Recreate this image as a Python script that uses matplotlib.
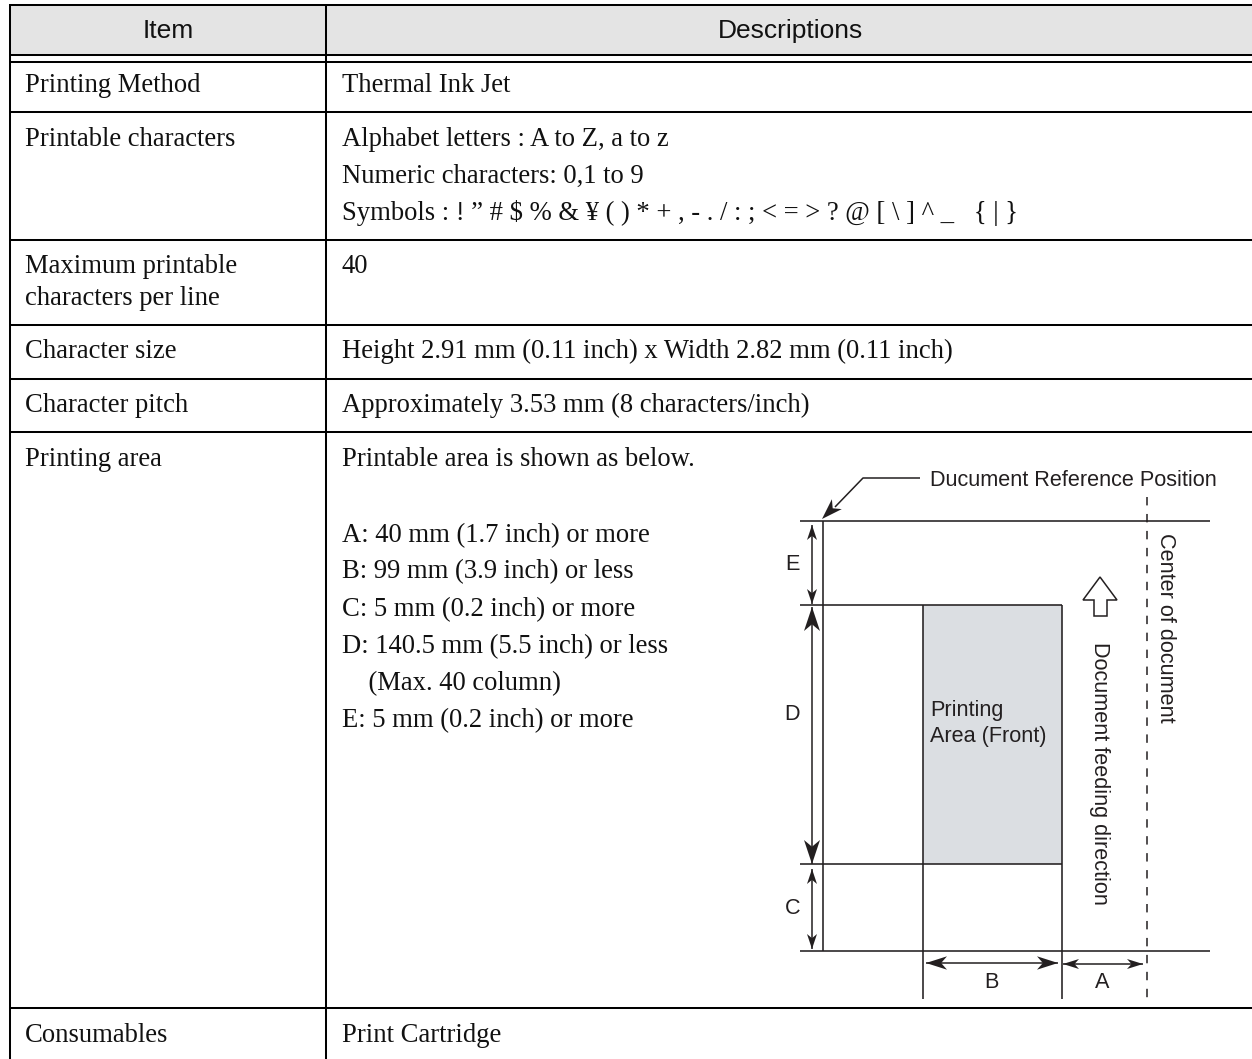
import math
import matplotlib
matplotlib.use("Agg")
import matplotlib.pyplot as plt
from matplotlib.patches import Rectangle, Polygon

W, H = 1252, 1059
SERIF = "Liberation Serif"
SANS = "Liberation Sans"
INK = "#231f20"
TXT = "#111111"

header_labels = ["Item", "Descriptions"]
row_rules = [5, 55, 62, 112, 240, 325, 379, 432, 1008]
item_labels = [("Printing Method", 92), ("Printable characters", 146),
               ("Maximum printable", 273), ("characters per line", 305),
               ("Character size", 358), ("Character pitch", 412),
               ("Printing area", 466), ("Consumables", 1042)]
desc_labels = [("Thermal Ink Jet", 92),
               ("Alphabet letters : A to Z, a to z", 146),
               ("Numeric characters: 0,1 to 9", 183),
               ("Symbols : ! \u201d # $ % & \u00a5 ( ) * + , - . / : ; < = > ? @ [ \\ ] ^ _   { | }", 220),
               ("40", 273),
               ("Height 2.91 mm (0.11 inch) x Width 2.82 mm (0.11 inch)", 358),
               ("Approximately 3.53 mm (8 characters/inch)", 412),
               ("Printable area is shown as below.", 466),
               ("A: 40 mm (1.7 inch) or more", 542),
               ("B: 99 mm (3.9 inch) or less", 578),
               ("C: 5 mm (0.2 inch) or more", 616),
               ("D: 140.5 mm (5.5 inch) or less", 653),
               ("    (Max. 40 column)", 690),
               ("E: 5 mm (0.2 inch) or more", 727),
               ("Print Cartridge", 1042)]

fig = plt.figure(figsize=(W / 100, H / 100), dpi=100)
ax = fig.add_axes([0, 0, 1, 1])
ax.set_xlim(0, W)
ax.set_ylim(H, 0)
ax.axis("off")

# table
ax.add_patch(Rectangle((10, 5), W - 10, 50, fc="#e4e4e4", ec="none"))
for y in row_rules:
    ax.plot([10, W], [y, y], color="black", lw=1.45, solid_capstyle="butt")
for x in [10, 326]:
    ax.plot([x, x], [4, H], color="black", lw=1.45, solid_capstyle="butt")

BODY = 19.2
ax.text(168, 38, header_labels[0], family=SANS, fontsize=19, ha="center", va="baseline", color=TXT)
ax.text(790.5, 38, header_labels[1], family=SANS, fontsize=19, ha="center", va="baseline", color=TXT)
for s, y in item_labels:
    ax.text(25, y, s, family=SERIF, fontsize=BODY, va="baseline", color=TXT)
for s, y in desc_labels:
    ax.text(342, y, s, family=SERIF, fontsize=BODY, va="baseline", color=TXT)

# diagram
LW = 1.15
ax.add_patch(Rectangle((923, 605), 139, 259, fc="#dbdee2", ec="none"))
segs = [((800, 1210), (521, 521)), ((800, 1062), (605, 605)), ((800, 1062), (864, 864)),
        ((800, 1210), (951, 951)), ((823, 823), (521, 951)), ((923, 923), (605, 999)),
        ((1061.5, 1061.5), (605, 999))]
for xs, ys in segs:
    ax.plot(xs, ys, color=INK, lw=LW, solid_capstyle="butt")
ax.plot([1147, 1147], [497, 1003], color=INK, lw=1.1, dashes=(5.5, 5.6))
ax.plot([920, 863, 835], [478, 478, 507], color=INK, lw=1.1, solid_capstyle="butt")


def head(tip, frm, length, half):
    dx, dy = frm[0] - tip[0], frm[1] - tip[1]
    n = math.hypot(dx, dy)
    ux, uy = dx / n, dy / n
    px, py = -uy, ux
    bx, by = tip[0] + ux * length, tip[1] + uy * length
    nx, ny = tip[0] + ux * length * 0.72, tip[1] + uy * length * 0.72
    ax.add_patch(Polygon([tip, (bx + px * half, by + py * half), (nx, ny),
                          (bx - px * half, by - py * half)], closed=True, fc=INK, ec="none"))


def arrow(p, q, length, half):
    ax.plot([p[0], q[0]], [p[1], q[1]], color=INK, lw=1.1, solid_capstyle="butt")
    head(p, q, length, half)
    head(q, p, length, half)


arrow((812, 525), (812, 604), 15, 5)
arrow((812, 607), (812, 864), 24, 8)
arrow((812, 869), (812, 949), 15, 5)
arrow((926, 963), (1058, 963), 21, 6.7)
arrow((1063, 964), (1143, 964), 16, 5)
head((822, 519), (863, 478), 21, 7)

ax.add_patch(Polygon([(1100, 577), (1117, 600), (1107, 600), (1107, 616), (1094, 616), (1094, 600), (1083, 600)],
                     closed=True, fc="white", ec=INK, lw=1.1))

DIA = 15.6
ax.text(930, 486, "Ducument Reference Position", family=SANS, fontsize=DIA, va="baseline", color=INK)
ax.text(930, 716, "Printing", family=SANS, fontsize=DIA, va="baseline", color=INK)
ax.text(930, 742, "Area (Front)", family=SANS, fontsize=DIA, va="baseline", color=INK)
for s, x, y in [("E", 792, 565), ("D", 792, 715), ("C", 793, 909), ("B", 991, 982), ("A", 1102, 982)]:
    ax.text(x, y, s, family=SANS, fontsize=DIA, ha="center", va="center", color=INK)
ax.text(1160, 628, "Center of document", family=SANS, fontsize=DIA, rotation=-90,
        rotation_mode="anchor", ha="center", va="baseline", color=INK)
ax.text(1094, 773, "Document feeding direction", family=SANS, fontsize=DIA, rotation=-90,
        rotation_mode="anchor", ha="center", va="baseline", color=INK)

fig.savefig("out.png", dpi=100, facecolor="white")
